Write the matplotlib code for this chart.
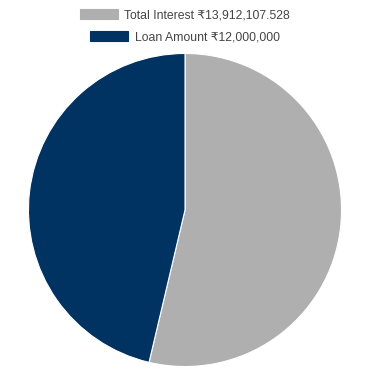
import matplotlib.pyplot as plt

plt.rcParams['font.family'] = ['Liberation Sans', 'DejaVu Sans']

labels = ["Total Interest ₹13,912,107.528", "Loan Amount ₹12,000,000"]
values = [13912107.528, 12000000]
colors = ["#afafaf", "#003362"]

fig = plt.figure(figsize=(3.7, 3.7), dpi=100)
ax = fig.add_axes([28/370, 3/370, 314/370, 314/370])
wedges, _ = ax.pie(values, colors=colors, startangle=90, counterclock=False,
                   wedgeprops=dict(edgecolor="white", linewidth=0.8))
ax.set_xlim(-1.003, 1.003)
ax.set_ylim(-1.003, 1.003)
ax.set_aspect("equal")

# each legend row is centred on its own
for i, yc in enumerate([1 - 15/370, 1 - 37/370]):
    leg = fig.legend([wedges[i]], [labels[i]], loc="center", bbox_to_anchor=(0.5, yc),
                     frameon=False, fontsize=8.8, handlelength=3.1, handleheight=0.9,
                     handletextpad=0.55, borderpad=0, labelcolor="#444444")
    for h in leg.legend_handles:
        h.set_edgecolor(colors[i])

fig.savefig("out.png", dpi=100)
